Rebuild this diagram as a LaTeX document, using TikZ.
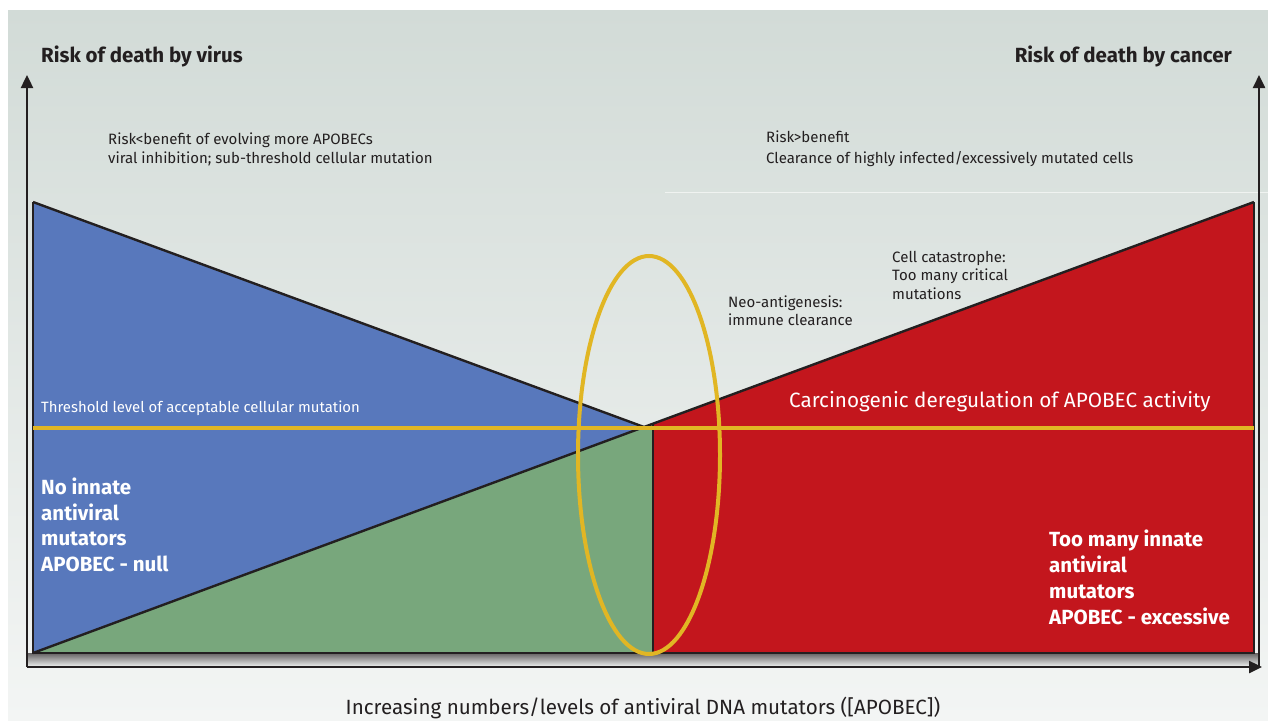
\documentclass[tikz,border=0pt]{standalone}
\usepackage{fontspec}
\setmainfont{Fira Sans}
\usetikzlibrary{arrows.meta,shapes.geometric}
\definecolor{bgtop}{HTML}{D2DBD7}
\definecolor{bgbot}{HTML}{F3F5F4}
\definecolor{vblue}{HTML}{5878BC}
\definecolor{vgreen}{HTML}{78A77C}
\definecolor{vred}{HTML}{C3161D}
\definecolor{vyellow}{HTML}{E1B624}
\definecolor{ink}{HTML}{231F20}
\begin{document}
\begin{tikzpicture}[x=1pt,y=-1pt,
  axis/.style={draw=ink, line width=2.4pt, -{Triangle[length=13pt,width=12pt]}},
  outline/.style={draw=ink, line width=2.4pt, line join=miter},
  lbl/.style={text=ink, inner sep=0pt, anchor=base west, align=left, font=\fontsize{15}{19.5}\selectfont},
  titl/.style={text=ink, inner sep=0pt, anchor=base west, font=\fontsize{20.5}{24}\selectfont\bfseries},
  wlbl/.style={text=white, inner sep=0pt, anchor=base west, align=left, font=\fontsize{20.5}{25.8}\selectfont\bfseries},
  yel/.style={draw=vyellow, line width=4pt}]
\useasboundingbox (0,0) rectangle (1268,720);
\fill[white] (0,0) rectangle (1268,720);
\shade[top color=bgtop, bottom color=bgbot] (8,10) rectangle (1268,720);
\draw[white, line width=1pt, opacity=0.6] (665,192) -- (1268,192);
% shadow under plot
\shade[top color=ink!70, bottom color=bgbot] (27,653) rectangle (1259,667);
% coordinates
\coordinate (TL) at (33,202);
\coordinate (BL) at (33,653);
\coordinate (V) at (644,427);
\coordinate (MT) at (653,423.6);
\coordinate (MB) at (653,653);
\coordinate (TR) at (1254,202);
\coordinate (BR) at (1254,653);
% regions
\fill[vblue] (TL) -- (V) -- (BL) -- cycle;
\fill[vgreen] (BL) -- (V) -- (MT) -- (MB) -- cycle;
\fill[vred] (MT) -- (TR) -- (BR) -- (MB) -- cycle;
\draw[outline] (TL) -- (V) -- (TR);
\draw[outline] (BL) -- (V);
\draw[outline] (MT) -- (MB);
\draw[outline] (TL) -- (BL) -- (BR) -- (TR);
% threshold
\coordinate (ThL) at (33,428);
\coordinate (ThR) at (1254,428);
\draw[yel] (ThL) -- (ThR);
% ellipse
\node[draw=vyellow, line width=4pt, ellipse, minimum width=142pt, minimum height=398pt, inner sep=0pt] (ell) at (649,455) {};
% axes
\coordinate (O) at (27,667);
\coordinate (YL) at (27,75);
\coordinate (OR) at (1259,667);
\coordinate (YR) at (1259,75);
\coordinate (XE) at (1262,667);
\draw[axis] (O) -- (YL);
\draw[axis] (OR) -- (YR);
\draw[axis] (O) -- (XE);
% titles
\node[titl] (tv) at (41,62) {Risk of death by virus};
\node[titl, anchor=base east] (tc) at (1232,62) {Risk of death by cancer};
% small labels (base = baseline of last line)
\node[lbl, font=\fontsize{15}{19}\selectfont] (rb1) at (108,163) {Risk<benefit of evolving more APOBECs\\viral inhibition; sub-threshold cellular mutation};
\node[lbl, font=\fontsize{15}{21}\selectfont] (rb2) at (766,163.3) {Risk>benefit\\Clearance of highly infected/excessively mutated cells};
\node[lbl, font=\fontsize{15}{18.5}\selectfont] (cc) at (892,299) {Cell catastrophe:\\Too many critical\\mutations};
\node[lbl, font=\fontsize{15}{18}\selectfont] (neo) at (728,325) {Neo-antigenesis:\\immune clearance};
\node[lbl, text=white, font=\fontsize{14.9}{18}\selectfont] (thr) at (41,412.7) {Threshold level of acceptable cellular mutation};
\node[lbl, text=white, font=\fontsize{20.7}{25}\selectfont] (carc) at (789,407.3) {Carcinogenic deregulation of APOBEC activity};
\node[wlbl] (null) at (41,571.7) {No innate\\antiviral\\mutators\\APOBEC - null};
\node[wlbl] (exc) at (1049,624.3) {Too many innate\\antiviral\\mutators\\APOBEC - excessive};
% x-axis label
\node[text=ink, inner sep=0pt, anchor=base, font=\fontsize{20.6}{24}\selectfont] (xl) at (643,714) {Increasing numbers/levels of antiviral DNA mutators ([APOBEC])};
\end{tikzpicture}
\end{document}
